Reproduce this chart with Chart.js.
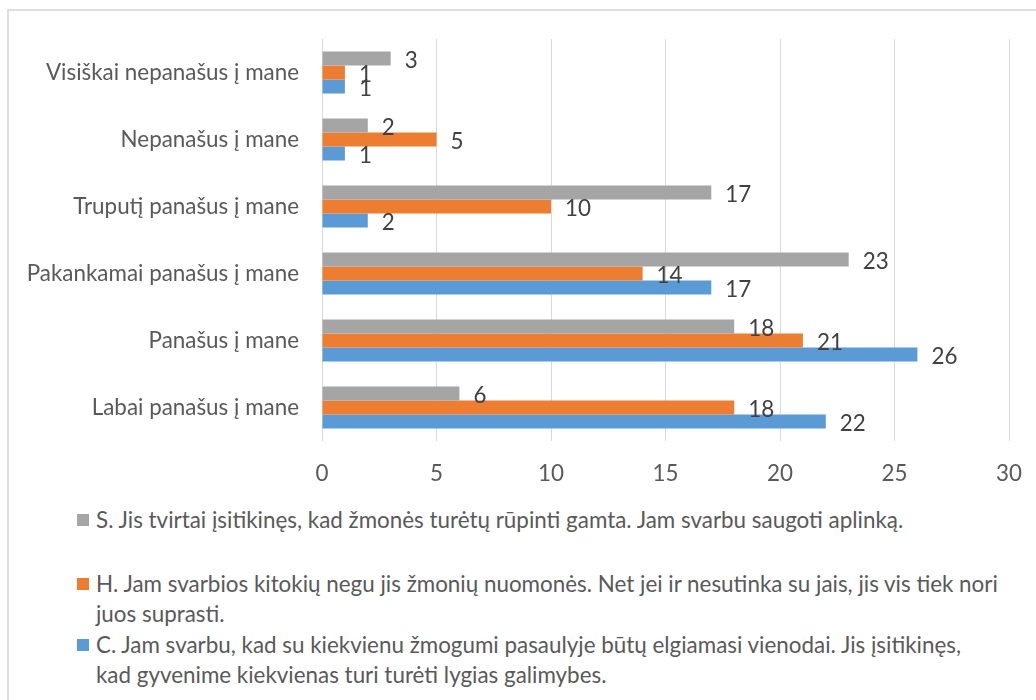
<!DOCTYPE html>
<html lang="lt">
<head>
<meta charset="utf-8">
<title>Vertybės</title>
<script src="https://cdn.jsdelivr.net/npm/chart.js@4.4.0/dist/chart.umd.min.js"></script>
<style>
    html, body {
        margin: 0;
        padding: 0;
        background: #fff;
        overflow: hidden;
    }
    .frame {
        position: absolute;
        left: 7px;
        top: 9px;
        width: 1100px;
        height: 800px;
        border: 2px solid #dedede;
    }
    .chart-box {
        position: absolute;
        left: 0;
        top: 0;
        width: 1036px;
        height: 500px;
    }
    .legend {
        position: absolute;
        left: 0;
        top: 0;
        font-family: 'Lato', sans-serif;
        font-size: 22.4px;
        line-height: 30px;
        color: #595959;
    }
    .legend-item {
        position: absolute;
        left: 96px;
        white-space: nowrap;
    }
    .legend-item .swatch {
        position: absolute;
        left: -19px;
        top: 9px;
        width: 12px;
        height: 12px;
    }
</style>
</head>
<body>
<div class="frame"></div>
<div class="chart-box"><canvas id="valuesChart" width="1036" height="500"></canvas></div>
<div class="legend" id="legend"></div>

<script>
const categories = [
    'Visiškai nepanašus į mane',
    'Nepanašus į mane',
    'Truputį panašus į mane',
    'Pakankamai panašus į mane',
    'Panašus į mane',
    'Labai panašus į mane'
];

const seriesS = [3, 2, 17, 23, 18, 6];
const seriesH = [1, 5, 10, 14, 21, 18];
const seriesC = [1, 1, 2, 17, 26, 22];

const seriesNames = [
    ['S. Jis tvirtai įsitikinęs, kad žmonės turėtų rūpinti gamta. Jam svarbu saugoti aplinką.'],
    ['H. Jam svarbios kitokių negu jis žmonių nuomonės. Net jei ir nesutinka su jais, jis vis tiek nori', 'juos suprasti.'],
    ['C. Jam svarbu, kad su kiekvienu žmogumi pasaulyje būtų elgiamasi vienodai. Jis įsitikinęs,', 'kad gyvenime kiekvienas turi turėti lygias galimybes.']
];

const xTicks = [0, 5, 10, 15, 20, 25, 30];

const colors = ['#A5A5A5', '#ED7D31', '#5B9BD5'];
const fontFamily = "'Lato', sans-serif";
const fontSize = 22.4;

// подписи значений справа от столбцов
const valueLabels = {
    id: 'valueLabels',
    afterDatasetsDraw(chart) {
        const ctx = chart.ctx;
        ctx.save();
        ctx.font = fontSize + 'px ' + fontFamily;
        ctx.fillStyle = '#404040';
        ctx.textAlign = 'left';
        ctx.textBaseline = 'middle';
        chart.data.datasets.forEach((ds, i) => {
            const meta = chart.getDatasetMeta(i);
            meta.data.forEach((bar, j) => {
                ctx.fillText(String(ds.data[j]), bar.x + 14, bar.y + 2);
            });
        });
        ctx.restore();
    }
};

const ctx = document.getElementById('valuesChart').getContext('2d');
const valuesChart = new Chart(ctx, {
    type: 'bar',
    data: {
        labels: categories,
        datasets: [
            { label: seriesNames[0].join(' '), data: seriesS, backgroundColor: colors[0] },
            { label: seriesNames[1].join(' '), data: seriesH, backgroundColor: colors[1] },
            { label: seriesNames[2].join(' '), data: seriesC, backgroundColor: colors[2] }
        ]
    },
    options: {
        indexAxis: 'y',
        responsive: false,
        animation: false,
        datasets: {
            bar: {
                categoryPercentage: 0.627,
                barPercentage: 1
            }
        },
        layout: {
            padding: { top: 39, right: 27, left: 0, bottom: 0 }
        },
        scales: {
            x: {
                min: 0,
                max: 30,
                afterFit: (scale) => {
                    scale.height = 59;
                    // не резервировать место под крайние подписи
                    scale.paddingLeft = 0;
                    scale.paddingRight = 0;
                },
                afterBuildTicks: (scale) => {
                    scale.ticks = xTicks.map(v => ({ value: v }));
                },
                grid: {
                    color: '#d9d9d9',
                    lineWidth: 1,
                    drawTicks: false
                },
                border: { display: false },
                ticks: {
                    padding: 19,
                    color: '#595959',
                    font: { size: fontSize, family: fontFamily }
                }
            },
            y: {
                afterFit: (scale) => { scale.width = 322; },
                grid: { display: false, drawTicks: false },
                border: { display: false },
                ticks: {
                    padding: 23,
                    color: '#595959',
                    font: { size: fontSize, family: fontFamily }
                }
            }
        },
        plugins: {
            legend: { display: false },
            tooltip: { enabled: false }
        }
    },
    plugins: [valueLabels]
});

// легенда под графиком
const legendTops = [505, 569, 630];
const legendEl = document.getElementById('legend');
seriesNames.forEach((lines, i) => {
    const item = document.createElement('div');
    item.className = 'legend-item';
    item.style.top = legendTops[i] + 'px';
    const sw = document.createElement('span');
    sw.className = 'swatch';
    sw.style.background = colors[i];
    item.appendChild(sw);
    lines.forEach((line, k) => {
        if (k > 0) item.appendChild(document.createElement('br'));
        item.appendChild(document.createTextNode(line));
    });
    legendEl.appendChild(item);
});
</script>
</body>
</html>
